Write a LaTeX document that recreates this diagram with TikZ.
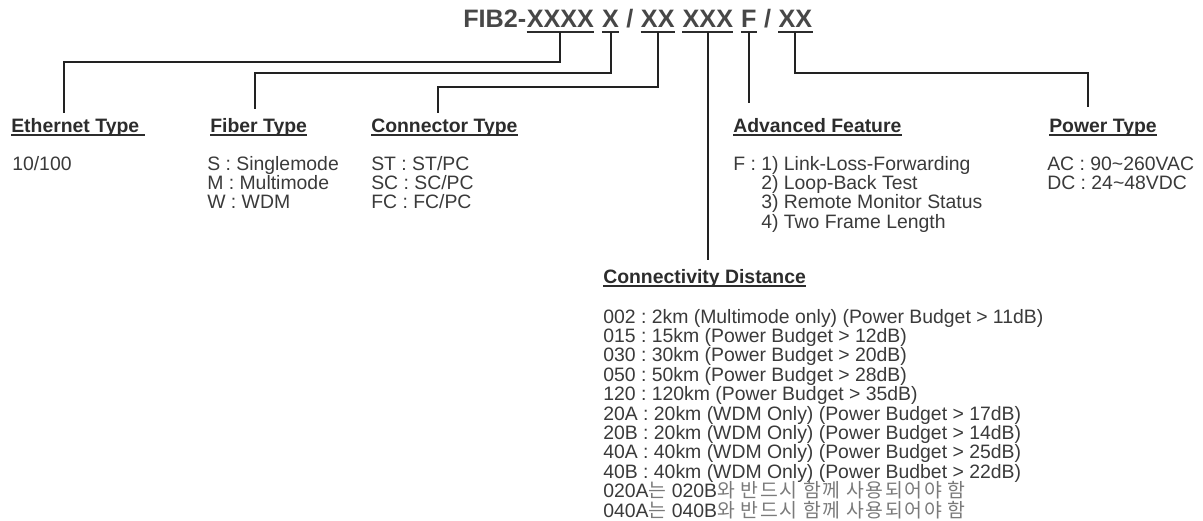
\documentclass[tikz,border=0pt]{standalone}
\usepackage{fontspec}
\setmainfont{Liberation Sans}
\newfontfamily\cjk{Noto Sans CJK KR}[LetterSpace=8]
\usetikzlibrary{calc}
\frenchspacing
\definecolor{inkbody}{HTML}{3A3A3A}
\definecolor{inkhead}{HTML}{2C2C2C}
\definecolor{inktitle}{HTML}{474747}
\definecolor{inkline}{HTML}{222222}
\definecolor{inkkor}{HTML}{7A7A7A}
\newcommand\kor[1]{{\cjk\color{inkkor}#1}}
\newcommand\gap{\kern0.278em}
\tikzset{
  txt/.style={inner sep=0pt, anchor=base west, text=inkbody, font=\fontsize{14.55}{14.55}\selectfont},
  head/.style={txt, text=inkhead, font=\fontsize{14.55}{14.55}\selectfont\bfseries},
  part/.style={inner sep=0pt, anchor=base west, text=inktitle, font=\fontsize{18.9}{18.9}\selectfont\bfseries},
  link/.style={draw=inkline, line width=1.5pt},
  uline/.style={draw=inkhead, line width=1.5pt}
}
\begin{document}
\begin{tikzpicture}[x=0.75pt,y=-0.75pt]
\useasboundingbox (0,0) rectangle (1203,521);
% model code
\node[part] (tfib) at (463,27) {FIB2-};
\node[part] (tet) at (tfib.base east) {XXXX};
\node[part] (s1) at (tet.base east) {\gap};
\node[part] (tfb) at (s1.base east) {X};
\node[part] (s2) at (tfb.base east) {\gap/\gap};
\node[part] (tcon) at (s2.base east) {XX};
\node[part] (s3) at (tcon.base east) {\gap};
\node[part] (tdist) at (s3.base east) {XXX};
\node[part] (s4) at (tdist.base east) {\gap};
\node[part] (tadv) at (s4.base east) {F};
\node[part] (s5) at (tadv.base east) {\gap/\gap};
\node[part] (tpow) at (s5.base east) {XX};
\foreach \g in {tet,tfb,tcon,tdist,tadv,tpow}{
  \draw[uline] ($(\g.base west)+(0,5.3)$) -- ($(\g.base east)+(0,5.3)$);
  \coordinate (\g-u) at ($(\g.base)+(0,5.3)$);
}
% headings
\node[head] (heth) at (11,132) {Ethernet Type\gap};
\node[head] (hfib) at (210,132) {Fiber Type};
\node[head] (hcon) at (371,132) {Connector Type};
\node[head] (hadv) at (733,132) {Advanced Feature};
\node[head] (hpow) at (1049,132) {Power Type};
\node[head] (hdist) at (603,283) {Connectivity Distance};
\foreach \h in {heth,hfib,hcon,hadv,hpow,hdist}
  \draw[uline] ($(\h.base west)+(0,2.8)$) -- ($(\h.base east)+(0,2.8)$);
% connectors
\coordinate (ethin) at (64,113);
\coordinate (fibin) at (255,109);
\coordinate (conin) at (438,113);
\coordinate (distin) at (706,260);
\coordinate (advin) at (746,103);
\coordinate (powin) at (1088,107);
\draw[link] (tet-u) -- ++(0,29.7) -| (ethin);
\draw[link] (tfb-u) -- ++(0,40.7) -| (fibin);
\draw[link] (tcon-u) -- ++(0,54.7) -| (conin);
\draw[link] (tdist-u) -- (tdist-u |- distin);
\draw[link] (tadv-u) -- (tadv-u |- advin);
\draw[link] (tpow-u) -- ++(0,40.7) -| (powin);
% values
\node[txt] (eth1) at (12,170) {10/100};
\foreach \txt [count=\i] in {S : Singlemode, M : Multimode, W : WDM}
  \node[txt] (fib\i) at (207,{170+(\i-1)*19.4}) {\txt};
\foreach \txt [count=\i] in {ST : ST/PC, SC : SC/PC, FC : FC/PC}
  \node[txt] (con\i) at (371,{170+(\i-1)*19.4}) {\txt};
\foreach \txt [count=\i] in {F : 1) Link-Loss-Forwarding, \phantom{F : }2) Loop-Back Test,
    \phantom{F : }3) Remote Monitor Status, \phantom{F : }4) Two Frame Length}
  \node[txt] (adv\i) at (733,{170+(\i-1)*19.4}) {\txt};
\node[txt] (pow1) at (1047,170) {AC : 90\textasciitilde 260VAC};
\node[txt] (pow2) at (1047,189.4) {DC : 24\textasciitilde 48VDC};
\foreach \txt [count=\i] in {002 : 2km (Multimode only) (Power Budget > 11dB),
    015 : 15km (Power Budget > 12dB), 030 : 30km (Power Budget > 20dB),
    050 : 50km (Power Budget > 28dB), 120 : 120km (Power Budget > 35dB),
    20A : 20km (WDM Only) (Power Budget > 17dB), 20B : 20km (WDM Only) (Power Budget > 14dB),
    40A : 40km (WDM Only) (Power Budget > 25dB), 40B : 40km (WDM Only) (Power Budbet > 22dB),
    020A\kor{는} 020B\kor{와 반드시 함께 사용되어야 함},
    040A\kor{는} 040B\kor{와 반드시 함께 사용되어야 함}}
  \node[txt] (dist\i) at (603,{323+(\i-1)*19.4}) {\txt};
\end{tikzpicture}
\end{document}
